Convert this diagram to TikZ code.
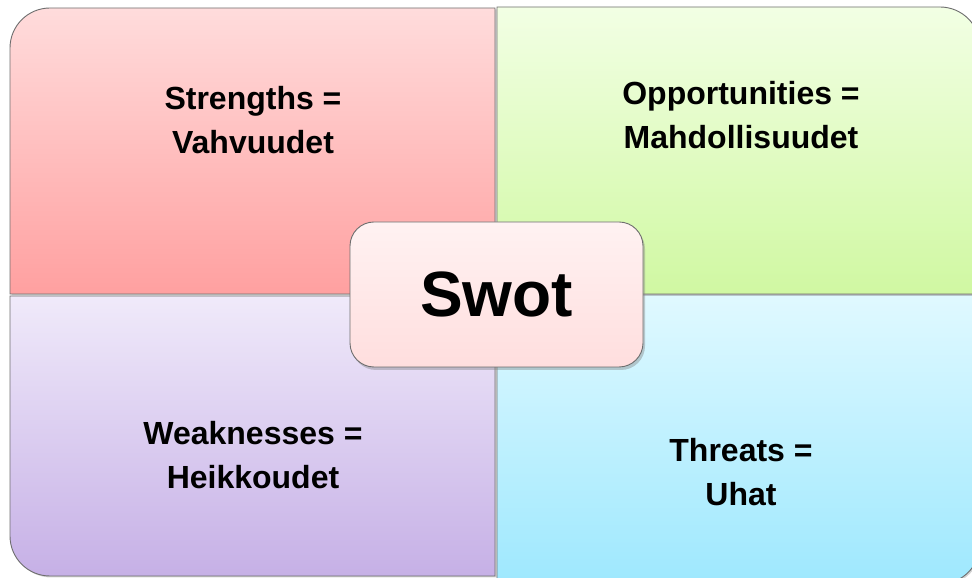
\documentclass[tikz,border=0pt]{standalone}
\usepackage{fontspec}
\setmainfont{Liberation Sans}
\usetikzlibrary{shadows}
\definecolor{edgegrey}{HTML}{6E6E6E}
\definecolor{tlTop}{HTML}{FFDCDC}
\definecolor{tlBot}{HTML}{FFA0A0}
\definecolor{trTop}{HTML}{F2FFE4}
\definecolor{trBot}{HTML}{D0F8A2}
\definecolor{blTop}{HTML}{F0EAFA}
\definecolor{blBot}{HTML}{C6B0E6}
\definecolor{brTop}{HTML}{E0F9FF}
\definecolor{brBot}{HTML}{9EE8FE}
\definecolor{cTop}{HTML}{FFF2F2}
\definecolor{cBot}{HTML}{FFDEDE}
\tikzset{
  quad/.style={draw=edgegrey, line width=0.9pt,
    drop shadow={shadow xshift=1.5pt, shadow yshift=-1.5pt, opacity=0.35}},
  lbl/.style={font=\fontsize{32}{44}\selectfont\bfseries, align=center, text=black},
  centerbox/.style={draw=edgegrey, line width=0.9pt, rounded corners=24pt,
    minimum width=293pt, minimum height=145pt, top color=cTop, bottom color=cBot,
    drop shadow={shadow xshift=2pt, shadow yshift=-3pt, opacity=0.4},
    font=\fontsize{64}{70}\selectfont\bfseries, inner sep=0pt}
}
\begin{document}
\begin{tikzpicture}[x=1pt,y=1pt]
\useasboundingbox (0,0) rectangle (972,578);
\begin{scope}
\clip (0,0) rectangle (972,578);
% top left
\path[quad, top color=tlTop, bottom color=tlBot]
  (495,284) -- (10,284) -- (10,530) arc[start angle=180,end angle=90,radius=40] -- (495,570) -- cycle;
% top right
\path[quad, top color=trTop, bottom color=trBot]
  (497,284) -- (497,571) -- (940,571) arc[start angle=90,end angle=0,radius=40] -- (980,284) -- cycle;
% bottom left
\path[quad, top color=blTop, bottom color=blBot]
  (495,282) -- (10,282) -- (10,42) arc[start angle=180,end angle=270,radius=40] -- (495,2) -- cycle;
% bottom right
\path[quad, top color=brTop, bottom color=brBot]
  (497,283) -- (980,283) -- (980,34) arc[start angle=0,end angle=-90,radius=40] -- (497,-6) -- cycle;
\end{scope}
% labels
\node[lbl] (s) at (253,458) {Strengths =\\Vahvuudet};
\node[lbl] (o) at (741,463) {Opportunities =\\Mahdollisuudet};
\node[lbl] (w) at (253,123) {Weaknesses =\\Heikkoudet};
\node[lbl] (t) at (741,106) {Threats =\\Uhat};
% center
\node[centerbox] (swot) at (496.5,283.5) {Swot};
\end{tikzpicture}
\end{document}
